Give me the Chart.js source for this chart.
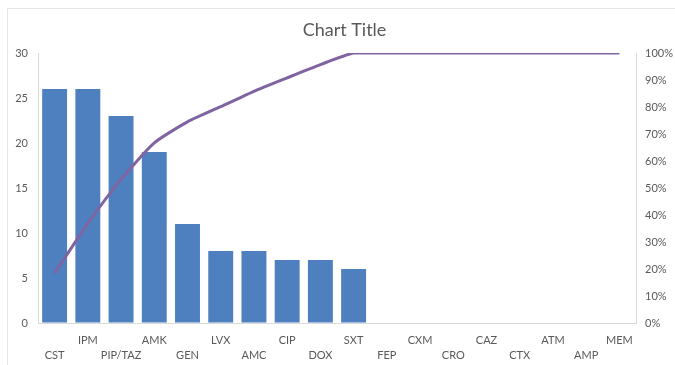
<!DOCTYPE html>
<html>
<head>
<meta charset="utf-8">
<script src="https://cdn.jsdelivr.net/npm/chart.js@4"></script>
<style>
  html, body { margin: 0; padding: 0; background: #fff; }
  #wrap { position: relative; width: 675px; height: 365px; overflow: hidden; }
  #frame { position: absolute; left: 7px; top: 8px; width: 700px; height: 400px; border: 1px solid #e6e6e6; }
  #chart { position: absolute; left: 0; top: 0; }
</style>
</head>
<body>
<div id="wrap">
  <div id="frame"></div>
  <canvas id="chart" width="675" height="365"></canvas>
</div>
<script>
// antibiotic codes, in pareto order
const drugs = ['CST', 'IPM', 'PIP/TAZ', 'AMK', 'GEN', 'LVX', 'AMC', 'CIP', 'DOX', 'SXT',
  'FEP', 'CXM', 'CRO', 'CAZ', 'CTX', 'ATM', 'AMP', 'MEM'];
// counts per drug
const counts = [26, 26, 23, 19, 11, 8, 8, 7, 7, 6, 0, 0, 0, 0, 0, 0, 0, 0];
// cumulative share, percent
const cumPct = [18.4, 36.9, 53.2, 66.7, 74.5, 80.1, 85.8, 90.8, 95.7, 100,
  100, 100, 100, 100, 100, 100, 100, 100];

const FONT = 'Lato, Calibri, "Noto Sans", sans-serif';
const TICK_COLOR = '#595959';
const AXIS_COLOR = '#d9d9d9';

const ctx = document.getElementById('chart').getContext('2d');
const chart = new Chart(ctx, {
  type: 'bar',
  data: {
    labels: drugs,
    datasets: [
      {
        type: 'line', label: 'Cumulative %', data: cumPct, yAxisID: 'yPct',
        borderColor: '#8064a2', borderWidth: 3, pointRadius: 0, tension: 0.2, order: 0
      },
      {
        type: 'bar', label: 'Count', data: counts, yAxisID: 'y',
        backgroundColor: '#4e7fbf', categoryPercentage: 1, barPercentage: 0.75, order: 1
      }
    ]
  },
  options: {
    responsive: false, animation: false,
    // left pad keeps the title centred on the framed area
    layout: { padding: { left: 14, right: 0, top: 0, bottom: 0 } },
    plugins: {
      legend: { display: false },
      tooltip: { enabled: false },
      title: {
        display: true, text: 'Chart Title', color: TICK_COLOR,
        font: { family: FONT, size: 18, weight: 'normal' },
        padding: { top: 19.5, bottom: 11.9 }
      }
    },
    scales: {
      x: {
        grid: { display: true, color: 'transparent', drawTicks: false },
        border: { display: true, color: AXIS_COLOR },
        ticks: {
          autoSkip: false, maxRotation: 0, minRotation: 0, padding: 10,
          color: TICK_COLOR, font: { family: FONT, size: 11, lineHeight: 1.35 },
          // stagger labels over two rows
          callback: function (v, i) { const s = this.getLabelForValue(v); return i % 2 ? [s] : ['', s]; }
        },
        afterFit: s => { s.height = 42; }
      },
      y: {
        position: 'left', min: 0, max: 30,
        grid: { display: true, color: 'transparent', drawTicks: false },
        border: { display: true, color: AXIS_COLOR },
        ticks: { stepSize: 5, padding: 10, color: TICK_COLOR, font: { family: FONT, size: 11 } },
        afterFit: s => { s.width = 24; }
      },
      yPct: {
        position: 'right', min: 0, max: 100,
        grid: { display: true, color: 'transparent', drawTicks: false },
        border: { display: true, color: AXIS_COLOR },
        ticks: {
          stepSize: 10, padding: 9, color: TICK_COLOR, font: { family: FONT, size: 11 },
          callback: v => v + '%'
        },
        afterFit: s => { s.width = 39; }
      }
    }
  }
});
</script>
</body>
</html>
